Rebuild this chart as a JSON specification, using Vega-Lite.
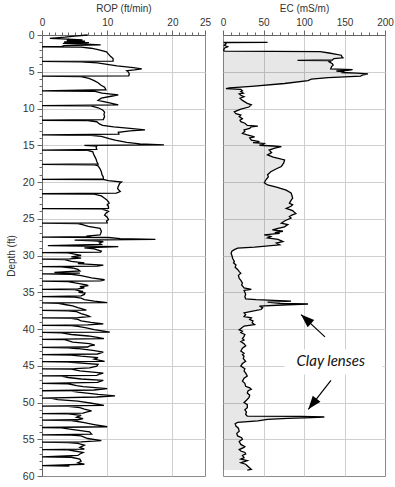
{
"$schema": "https://vega.github.io/schema/vega-lite/v6.json",
"padding": {"left": 5, "top": 2, "right": 5, "bottom": 5},
"background": "white",
"spacing": 18,
"bounds": "flush",
"config": {
  "view": {"stroke": "#8c8c8c", "strokeWidth": 1},
  "axis": {"labelFont": "Liberation Sans", "titleFont": "Liberation Sans", "labelFontSize": 10, "titleFontSize": 10, "titleFontWeight": "normal", "labelColor": "#333", "titleColor": "#333", "domainColor": "#666", "tickColor": "#666", "gridColor": "#cfcfcf", "labelFlush": false, "labelOverlap": false}
},
"datasets": {
"rop": [
{"d":0.0,"rop":7.0},{"d":0.15,"rop":5.0},{"d":0.3,"rop":3.5},{"d":0.45,"rop":1.2},{"d":0.55,"rop":4.0},{"d":0.65,"rop":6.2},{"d":0.75,"rop":3.8},{"d":0.85,"rop":6.6},{"d":0.95,"rop":3.4},{"d":1.05,"rop":7.2},{"d":1.15,"rop":3.2},{"d":1.25,"rop":6.8},{"d":1.35,"rop":9.0},{"d":1.45,"rop":3.4},{"d":1.55,"rop":3.0},{"d":1.6,"rop":0},
{"d":1.65,"rop":6.0},{"d":1.8,"rop":7.5},{"d":2.0,"rop":8.6},{"d":2.3,"rop":9.9},{"d":2.6,"rop":10.2},{"d":2.9,"rop":10.5},{"d":3.2,"rop":10.9},{"d":3.55,"rop":10.9},{"d":3.6,"rop":0},
{"d":3.65,"rop":6.0},{"d":3.8,"rop":8.5},{"d":4.0,"rop":10.0},{"d":4.2,"rop":11.5},{"d":4.45,"rop":14.0},{"d":4.6,"rop":15.3},{"d":4.75,"rop":14.2},{"d":4.85,"rop":13.0},{"d":5.0,"rop":13.2},{"d":5.3,"rop":13.4},{"d":5.55,"rop":13.3},{"d":5.6,"rop":0},
{"d":5.65,"rop":6.0},{"d":5.9,"rop":7.2},{"d":6.2,"rop":8.0},{"d":6.5,"rop":8.6},{"d":6.8,"rop":9.0},{"d":7.1,"rop":9.6},{"d":7.45,"rop":9.8},{"d":7.6,"rop":0},
{"d":7.65,"rop":8.0},{"d":7.9,"rop":9.2},{"d":8.15,"rop":11.7},{"d":8.3,"rop":10.8},{"d":8.6,"rop":9.1},{"d":8.9,"rop":8.6},{"d":9.2,"rop":10.2},{"d":9.5,"rop":11.7},{"d":9.6,"rop":0},
{"d":9.65,"rop":7.5},{"d":9.9,"rop":8.6},{"d":10.2,"rop":9.3},{"d":10.5,"rop":9.6},{"d":10.8,"rop":9.5},{"d":11.1,"rop":9.6},{"d":11.5,"rop":9.4},{"d":11.6,"rop":0},
{"d":11.65,"rop":7.0},{"d":11.8,"rop":8.4},{"d":12.1,"rop":8.8},{"d":12.3,"rop":9.3},{"d":12.5,"rop":11.0},{"d":12.7,"rop":13.5},{"d":12.9,"rop":15.8},{"d":13.05,"rop":13.5},{"d":13.25,"rop":11.7},{"d":13.5,"rop":11.8},{"d":13.6,"rop":0},
{"d":13.65,"rop":7.5},{"d":13.8,"rop":9.1},{"d":14.1,"rop":10.3},{"d":14.3,"rop":11.2},{"d":14.6,"rop":13.0},{"d":14.8,"rop":15.0},{"d":14.95,"rop":18.7},{"d":15.02,"rop":6.5},{"d":15.1,"rop":8.4},{"d":15.3,"rop":8.3},{"d":15.55,"rop":8.4},{"d":15.65,"rop":0},
{"d":15.7,"rop":7.0},{"d":15.9,"rop":7.8},{"d":16.2,"rop":7.9},{"d":16.55,"rop":8.1},{"d":16.9,"rop":8.3},{"d":17.2,"rop":8.4},{"d":17.55,"rop":8.6},{"d":17.6,"rop":0},
{"d":17.65,"rop":8.0},{"d":17.8,"rop":8.6},{"d":18.2,"rop":8.9},{"d":18.6,"rop":9.1},{"d":19.0,"rop":9.2},{"d":19.3,"rop":9.4},{"d":19.58,"rop":9.4},{"d":19.63,"rop":0},
{"d":19.68,"rop":9.5},{"d":19.8,"rop":10.2},{"d":20.0,"rop":12.2},{"d":20.2,"rop":11.9},{"d":20.6,"rop":11.7},{"d":20.9,"rop":11.6},{"d":21.3,"rop":12.0},{"d":21.5,"rop":11.4},{"d":21.6,"rop":0},
{"d":21.65,"rop":8.0},{"d":21.9,"rop":9.1},{"d":22.2,"rop":9.6},{"d":22.4,"rop":9.9},{"d":22.7,"rop":10.2},{"d":22.9,"rop":10.3},{"d":23.1,"rop":10.0},{"d":23.3,"rop":10.2},{"d":23.58,"rop":10.2},{"d":23.62,"rop":0},
{"d":23.67,"rop":9.0},{"d":23.8,"rop":9.6},{"d":24.0,"rop":10.2},{"d":24.25,"rop":9.8},{"d":24.5,"rop":9.6},{"d":24.8,"rop":10.0},{"d":25.1,"rop":10.2},{"d":25.3,"rop":9.9},{"d":25.55,"rop":10.0},{"d":25.6,"rop":0},
{"d":25.65,"rop":5.5},{"d":25.8,"rop":6.2},{"d":26.05,"rop":7.1},{"d":26.3,"rop":8.9},{"d":26.5,"rop":9.0},{"d":26.7,"rop":9.1},{"d":27.0,"rop":9.0},{"d":27.2,"rop":8.9},{"d":27.35,"rop":6.8},{"d":27.45,"rop":7.5},{"d":27.5,"rop":0},
{"d":27.55,"rop":10.2},{"d":27.7,"rop":12.0},{"d":27.8,"rop":17.4},{"d":27.9,"rop":5.0},{"d":28.0,"rop":8.0},{"d":28.1,"rop":9.4},{"d":28.3,"rop":8.8},{"d":28.5,"rop":9.1},{"d":28.65,"rop":0.9},{"d":28.8,"rop":11.7},{"d":28.95,"rop":6.5},{"d":29.1,"rop":8.0},{"d":29.4,"rop":9.1},{"d":29.55,"rop":9.0},{"d":29.6,"rop":0},
{"d":29.65,"rop":4.0},{"d":29.8,"rop":5.0},{"d":30.0,"rop":6.0},{"d":30.2,"rop":4.5},{"d":30.35,"rop":6.0},{"d":30.45,"rop":4.2},{"d":30.5,"rop":0},
{"d":30.55,"rop":3.5},{"d":30.8,"rop":4.5},{"d":31.0,"rop":6.5},{"d":31.1,"rop":5.5},{"d":31.3,"rop":9.4},{"d":31.45,"rop":8.5},{"d":31.5,"rop":0},
{"d":31.55,"rop":3.0},{"d":31.7,"rop":4.7},{"d":31.9,"rop":5.5},{"d":32.1,"rop":5.8},{"d":32.3,"rop":1.9},{"d":32.4,"rop":5.8},{"d":32.5,"rop":0},
{"d":32.55,"rop":4.5},{"d":32.75,"rop":6.0},{"d":33.05,"rop":7.6},{"d":33.3,"rop":9.6},{"d":33.45,"rop":9.0},{"d":33.5,"rop":0},
{"d":33.55,"rop":4.0},{"d":33.8,"rop":5.5},{"d":34.0,"rop":6.8},{"d":34.1,"rop":7.1},{"d":34.25,"rop":5.8},{"d":34.4,"rop":6.5},{"d":34.55,"rop":5.5},{"d":34.6,"rop":0},
{"d":34.65,"rop":5.0},{"d":34.9,"rop":6.3},{"d":35.0,"rop":5.6},{"d":35.1,"rop":6.6},{"d":35.3,"rop":6.5},{"d":35.5,"rop":6.0},{"d":35.6,"rop":0},
{"d":35.65,"rop":5.0},{"d":35.8,"rop":6.0},{"d":36.0,"rop":6.5},{"d":36.2,"rop":8.0},{"d":36.4,"rop":10.0},{"d":36.45,"rop":0},
{"d":36.5,"rop":2.5},{"d":36.7,"rop":3.7},{"d":36.85,"rop":4.7},{"d":37.1,"rop":5.5},{"d":37.3,"rop":6.3},{"d":37.42,"rop":6.8},{"d":37.47,"rop":0},
{"d":37.52,"rop":4.0},{"d":37.65,"rop":5.3},{"d":37.9,"rop":6.0},{"d":38.1,"rop":6.8},{"d":38.3,"rop":7.3},{"d":38.45,"rop":5.5},{"d":38.5,"rop":0},
{"d":38.55,"rop":4.5},{"d":38.7,"rop":5.5},{"d":38.9,"rop":6.0},{"d":39.1,"rop":7.5},{"d":39.3,"rop":9.4},{"d":39.45,"rop":7.0},{"d":39.5,"rop":0},
{"d":39.55,"rop":4.5},{"d":39.65,"rop":5.5},{"d":39.85,"rop":6.8},{"d":40.1,"rop":8.0},{"d":40.3,"rop":9.5},{"d":40.42,"rop":10.4},{"d":40.47,"rop":0},
{"d":40.52,"rop":3.0},{"d":40.75,"rop":4.5},{"d":40.95,"rop":7.1},{"d":41.15,"rop":8.5},{"d":41.32,"rop":9.5},{"d":41.4,"rop":0},
{"d":41.45,"rop":3.5},{"d":41.8,"rop":4.7},{"d":42.0,"rop":7.3},{"d":42.2,"rop":8.1},{"d":42.3,"rop":7.3},{"d":42.45,"rop":7.0},{"d":42.5,"rop":0},
{"d":42.55,"rop":4.0},{"d":42.65,"rop":5.3},{"d":42.9,"rop":7.8},{"d":43.15,"rop":9.4},{"d":43.4,"rop":8.5},{"d":43.5,"rop":0},
{"d":43.55,"rop":4.5},{"d":43.7,"rop":6.0},{"d":43.9,"rop":8.6},{"d":44.1,"rop":8.0},{"d":44.4,"rop":9.6},{"d":44.45,"rop":0},
{"d":44.5,"rop":4.0},{"d":44.8,"rop":8.6},{"d":45.05,"rop":8.4},{"d":45.3,"rop":7.3},{"d":45.38,"rop":5.0},{"d":45.42,"rop":0},
{"d":45.47,"rop":4.5},{"d":45.7,"rop":5.8},{"d":46.0,"rop":9.4},{"d":46.15,"rop":8.8},{"d":46.3,"rop":8.4},{"d":46.38,"rop":0},
{"d":46.42,"rop":3.0},{"d":46.6,"rop":4.0},{"d":46.8,"rop":6.0},{"d":47.0,"rop":9.4},{"d":47.25,"rop":8.5},{"d":47.4,"rop":0},
{"d":47.45,"rop":4.0},{"d":47.7,"rop":5.3},{"d":47.85,"rop":6.3},{"d":48.1,"rop":10.0},{"d":48.3,"rop":8.0},{"d":48.4,"rop":0},
{"d":48.45,"rop":4.5},{"d":48.6,"rop":5.5},{"d":48.9,"rop":8.6},{"d":49.1,"rop":11.2},{"d":49.25,"rop":8.4},{"d":49.4,"rop":0},
{"d":49.45,"rop":1.5},{"d":49.6,"rop":2.4},{"d":49.8,"rop":5.5},{"d":50.1,"rop":7.6},{"d":50.4,"rop":9.5},{"d":50.48,"rop":0},
{"d":50.52,"rop":4.0},{"d":50.7,"rop":5.8},{"d":50.9,"rop":6.5},{"d":51.15,"rop":7.6},{"d":51.3,"rop":6.8},{"d":51.45,"rop":6.3},{"d":51.5,"rop":0},
{"d":51.55,"rop":4.0},{"d":51.75,"rop":6.0},{"d":52.0,"rop":5.3},{"d":52.2,"rop":6.3},{"d":52.35,"rop":5.5},{"d":52.4,"rop":0},
{"d":52.45,"rop":4.5},{"d":52.75,"rop":6.5},{"d":53.0,"rop":8.0},{"d":53.3,"rop":10.0},{"d":53.4,"rop":0},
{"d":53.45,"rop":3.0},{"d":53.65,"rop":4.5},{"d":54.0,"rop":7.3},{"d":54.3,"rop":7.6},{"d":54.4,"rop":0},
{"d":54.45,"rop":4.5},{"d":54.55,"rop":6.0},{"d":54.9,"rop":7.0},{"d":55.2,"rop":9.1},{"d":55.35,"rop":6.0},{"d":55.4,"rop":0},
{"d":55.45,"rop":4.0},{"d":55.55,"rop":5.5},{"d":55.8,"rop":6.5},{"d":56.1,"rop":5.8},{"d":56.35,"rop":6.5},{"d":56.4,"rop":0},
{"d":56.45,"rop":4.0},{"d":56.6,"rop":5.0},{"d":56.8,"rop":6.3},{"d":57.0,"rop":5.8},{"d":57.2,"rop":5.5},{"d":57.4,"rop":0},
{"d":57.45,"rop":4.5},{"d":57.7,"rop":5.8},{"d":58.0,"rop":6.0},{"d":58.2,"rop":5.5},{"d":58.4,"rop":6.5},{"d":58.6,"rop":0},
{"d":58.65,"rop":4.2}
],
"ec": [
{"d":1.0,"ec":55},{"d":1.02,"ec":2},{"d":1.2,"ec":3.7},{"d":1.4,"ec":1.6},{"d":1.6,"ec":5.8},{"d":1.8,"ec":1.6},{"d":2.1,"ec":0.8},{"d":2.2,"ec":2},{"d":2.25,"ec":120},{"d":2.45,"ec":131},{"d":2.75,"ec":146},{"d":3.0,"ec":147},{"d":3.1,"ec":148},{"d":3.2,"ec":137},{"d":3.4,"ec":135},{"d":3.45,"ec":92},{"d":3.5,"ec":134},{"d":3.65,"ec":131},{"d":3.9,"ec":135},{"d":4.1,"ec":136},{"d":4.3,"ec":134},{"d":4.6,"ec":133},{"d":4.7,"ec":160},{"d":4.8,"ec":154},{"d":4.9,"ec":140},{"d":5.0,"ec":150},{"d":5.1,"ec":146},{"d":5.2,"ec":165},{"d":5.3,"ec":179},{"d":5.45,"ec":172},{"d":5.6,"ec":170},{"d":5.8,"ec":130},{"d":6.0,"ec":109},{"d":6.2,"ec":105},{"d":6.6,"ec":76},{"d":7.0,"ec":35},{"d":7.2,"ec":8},{"d":7.3,"ec":3.7},{"d":7.4,"ec":22},{"d":7.6,"ec":24},{"d":7.7,"ec":22},{"d":7.9,"ec":25},{"d":8.0,"ec":20},{"d":8.2,"ec":22},{"d":8.4,"ec":26},{"d":8.6,"ec":21},{"d":8.9,"ec":24},{"d":9.1,"ec":27},{"d":9.3,"ec":30},{"d":9.5,"ec":35},{"d":9.8,"ec":32},{"d":10.1,"ec":22},{"d":10.45,"ec":14},{"d":10.7,"ec":16},{"d":10.9,"ec":22},{"d":11.1,"ec":20},{"d":11.4,"ec":24},{"d":11.6,"ec":21},{"d":11.8,"ec":22},{"d":12.0,"ec":27},{"d":12.3,"ec":30},{"d":12.4,"ec":43},{"d":12.5,"ec":35},{"d":12.7,"ec":33},{"d":12.9,"ec":26},{"d":13.1,"ec":27},{"d":13.4,"ec":24},{"d":13.6,"ec":30},{"d":13.85,"ec":39},{"d":14.0,"ec":33},{"d":14.3,"ec":35},{"d":14.5,"ec":45},{"d":14.65,"ec":37},{"d":14.75,"ec":51},{"d":14.9,"ec":49},{"d":15.0,"ec":45},{"d":15.1,"ec":62},{"d":15.2,"ec":72},{"d":15.4,"ec":64},{"d":15.65,"ec":57},{"d":16.0,"ec":60},{"d":16.3,"ec":55},{"d":16.6,"ec":62},{"d":16.9,"ec":72},{"d":17.0,"ec":76},{"d":17.4,"ec":75},{"d":17.9,"ec":72},{"d":18.2,"ec":66},{"d":18.6,"ec":59},{"d":19.0,"ec":55},{"d":19.3,"ec":56},{"d":19.7,"ec":53},{"d":20.1,"ec":51},{"d":20.4,"ec":55},{"d":20.7,"ec":66},{"d":21.1,"ec":78},{"d":21.5,"ec":84},{"d":21.8,"ec":85},{"d":22.2,"ec":86},{"d":22.5,"ec":84},{"d":22.9,"ec":82},{"d":23.1,"ec":86},{"d":23.3,"ec":84},{"d":23.6,"ec":78},{"d":23.9,"ec":86},{"d":24.1,"ec":88},{"d":24.3,"ec":90},{"d":24.5,"ec":85},{"d":24.7,"ec":82},{"d":24.9,"ec":84},{"d":25.1,"ec":80},{"d":25.3,"ec":76},{"d":25.6,"ec":72},{"d":25.8,"ec":80},{"d":26.1,"ec":76},{"d":26.3,"ec":68},{"d":26.5,"ec":61},{"d":26.7,"ec":74},{"d":26.9,"ec":64},{"d":27.0,"ec":70},{"d":27.2,"ec":51},{"d":27.4,"ec":59},{"d":27.6,"ec":55},{"d":27.8,"ec":68},{"d":28.1,"ec":74},{"d":28.3,"ec":66},{"d":28.55,"ec":70},{"d":28.85,"ec":39},{"d":29.0,"ec":18},{"d":29.2,"ec":14},{"d":29.4,"ec":11},{"d":29.7,"ec":10},{"d":30.0,"ec":11},{"d":30.4,"ec":12},{"d":30.8,"ec":14},{"d":31.0,"ec":13},{"d":31.3,"ec":16},{"d":31.6,"ec":15},{"d":31.9,"ec":18},{"d":32.2,"ec":20},{"d":32.4,"ec":22},{"d":32.7,"ec":19},{"d":33.1,"ec":20},{"d":33.4,"ec":22},{"d":33.75,"ec":24},{"d":34.0,"ec":23},{"d":34.4,"ec":26},{"d":34.6,"ec":35},{"d":34.75,"ec":26},{"d":35.0,"ec":27},{"d":35.3,"ec":28},{"d":35.6,"ec":27},{"d":35.9,"ec":28},{"d":36.0,"ec":41},{"d":36.2,"ec":84},{"d":36.35,"ec":55},{"d":36.5,"ec":70},{"d":36.6,"ec":105},{"d":36.7,"ec":80},{"d":36.9,"ec":45},{"d":37.1,"ec":49},{"d":37.35,"ec":47},{"d":37.6,"ec":35},{"d":37.8,"ec":26},{"d":38.05,"ec":28},{"d":38.3,"ec":26},{"d":38.5,"ec":35},{"d":38.7,"ec":33},{"d":38.9,"ec":37},{"d":39.15,"ec":36},{"d":39.4,"ec":39},{"d":39.6,"ec":26},{"d":39.85,"ec":23},{"d":40.1,"ec":20},{"d":40.3,"ec":24},{"d":40.5,"ec":22},{"d":40.75,"ec":27},{"d":41.0,"ec":26},{"d":41.3,"ec":24},{"d":41.5,"ec":26},{"d":41.7,"ec":22},{"d":42.0,"ec":26},{"d":42.3,"ec":28},{"d":42.6,"ec":24},{"d":43.0,"ec":22},{"d":43.3,"ec":26},{"d":43.5,"ec":24},{"d":43.7,"ec":26},{"d":44.0,"ec":25},{"d":44.4,"ec":28},{"d":44.7,"ec":24},{"d":45.05,"ec":22},{"d":45.4,"ec":27},{"d":45.7,"ec":26},{"d":46.0,"ec":28},{"d":46.4,"ec":30},{"d":46.7,"ec":26},{"d":47.1,"ec":24},{"d":47.4,"ec":27},{"d":47.8,"ec":28},{"d":48.0,"ec":33},{"d":48.2,"ec":35},{"d":48.4,"ec":31},{"d":48.7,"ec":30},{"d":49.0,"ec":33},{"d":49.35,"ec":32},{"d":49.7,"ec":29},{"d":50.0,"ec":26},{"d":50.3,"ec":30},{"d":50.7,"ec":30},{"d":51.0,"ec":27},{"d":51.3,"ec":29},{"d":51.6,"ec":28},{"d":51.85,"ec":30},{"d":51.9,"ec":96},{"d":51.95,"ec":125},{"d":52.0,"ec":124},{"d":52.05,"ec":110},{"d":52.15,"ec":80},{"d":52.3,"ec":55},{"d":52.5,"ec":43},{"d":52.7,"ec":18},{"d":52.9,"ec":15},{"d":53.2,"ec":16},{"d":53.5,"ec":19},{"d":53.9,"ec":20},{"d":54.2,"ec":17},{"d":54.55,"ec":18},{"d":54.8,"ec":23},{"d":55.0,"ec":24},{"d":55.3,"ec":20},{"d":55.7,"ec":22},{"d":56.0,"ec":27},{"d":56.1,"ec":26},{"d":56.4,"ec":20},{"d":56.6,"ec":22},{"d":56.8,"ec":27},{"d":57.0,"ec":28},{"d":57.2,"ec":24},{"d":57.5,"ec":26},{"d":57.7,"ec":22},{"d":57.9,"ec":30},{"d":58.2,"ec":22},{"d":58.4,"ec":28},{"d":58.6,"ec":30},{"d":58.9,"ec":33},{"d":59.1,"ec":35},{"d":59.2,"ec":30}
],
"note": [{"label": "Clay lenses", "ec": 133, "d": 44.4, "ec_lo": 76, "ec_hi": 197, "d_lo": 42.8, "d_hi": 46.2}],
"arrows": [
{"id": 1, "ec": 125.9, "d": 41.07, "ec2": 96.3, "d2": 38.04},
{"id": 2, "ec": 133.3, "d": 47.0, "ec2": 105.3, "d2": 50.93}
]
},
"hconcat": [
{
  "width": 163, "height": 441,
  "data": {"name": "rop"},
  "mark": {"type": "line", "color": "black", "strokeWidth": 1.3},
  "encoding": {
    "x": {"field": "rop", "type": "quantitative", "scale": {"domain": [0, 25], "nice": false},
      "axis": {"orient": "top", "title": "ROP (ft/min)", "values": [0,1,2,3,4,5,6,7,8,9,10,11,12,13,14,15,16,17,18,19,20,21,22,23,24,25],
        "labelExpr": "datum.value % 10 === 0 || datum.value === 25 ? datum.label : ''",
        "tickSize": {"condition": {"test": "datum.value % 10 === 0 || datum.value === 25", "value": 5}, "value": 3},
        "gridOpacity": {"condition": {"test": "datum.value === 10 || datum.value === 20", "value": 1}, "value": 0},
        "grid": true, "labelPadding": 3, "titlePadding": 4}},
    "y": {"field": "d", "type": "quantitative", "scale": {"domain": [0, 60], "reverse": true, "nice": false},
      "axis": {"title": "Depth (ft)", "values": [0,1,2,3,4,5,6,7,8,9,10,11,12,13,14,15,16,17,18,19,20,21,22,23,24,25,26,27,28,29,30,31,32,33,34,35,36,37,38,39,40,41,42,43,44,45,46,47,48,49,50,51,52,53,54,55,56,57,58,59,60],
        "labelExpr": "datum.value % 5 === 0 ? datum.label : ''",
        "tickSize": {"condition": {"test": "datum.value % 5 === 0", "value": 5}, "value": 3},
        "gridOpacity": {"condition": {"test": "datum.value % 5 === 0 && datum.value > 0 && datum.value < 60", "value": 1}, "value": 0},
        "grid": true, "labelPadding": 3, "titlePadding": 6, "labelFontSize": 10.5}},
    "order": {"field": "d", "type": "quantitative"}
  }
},
{
  "width": 162, "height": 441,
  "resolve": {"axis": {"x": "independent", "y": "independent"}},
  "layer": [
    {
      "data": {"name": "ec"},
      "mark": {"type": "line", "color": "black", "strokeWidth": 1.3},
      "encoding": {
        "x": {"field": "ec", "type": "quantitative", "scale": {"domain": [0, 200], "nice": false},
          "axis": {"orient": "top", "title": "EC (mS/m)", "values": [0,10,20,30,40,50,60,70,80,90,100,110,120,130,140,150,160,170,180,190,200],
            "labelExpr": "datum.value % 50 === 0 ? datum.label : ''",
            "tickSize": {"condition": {"test": "datum.value % 50 === 0", "value": 5}, "value": 3},
            "gridOpacity": {"condition": {"test": "datum.value % 50 === 0 && datum.value > 0 && datum.value < 200", "value": 1}, "value": 0},
            "grid": true, "labelPadding": 3, "titlePadding": 4}},
        "y": {"field": "d", "type": "quantitative", "scale": {"domain": [0, 60], "reverse": true, "nice": false},
          "axis": {"title": null, "values": [5,10,15,20,25,30,35,40,45,50,55], "labels": false, "ticks": false, "domain": false, "grid": true}},
        "order": {"field": "d", "type": "quantitative"}
      }
    },
    {
      "data": {"name": "ec"},
      "mark": {"type": "area", "orient": "horizontal", "fill": "black", "fillOpacity": 0.095},
      "encoding": {
        "x": {"field": "ec", "type": "quantitative", "stack": null, "axis": null},
        "x2": {"datum": 0},
        "y": {"field": "d", "type": "quantitative", "axis": null}
      }
    },
    {
      "data": {"name": "note"},
      "mark": {"type": "rect", "fill": "white"},
      "encoding": {
        "x": {"field": "ec_lo", "type": "quantitative", "axis": null},
        "x2": {"field": "ec_hi"},
        "y": {"field": "d_lo", "type": "quantitative", "axis": null},
        "y2": {"field": "d_hi"}
      }
    },
    {
      "data": {"name": "note"},
      "mark": {"type": "text", "font": "Lato", "fontStyle": "italic", "fontSize": 15, "color": "#111"},
      "encoding": {
        "x": {"field": "ec", "type": "quantitative", "axis": null},
        "y": {"field": "d", "type": "quantitative", "axis": null},
        "text": {"field": "label"}
      }
    },
    {
      "data": {"name": "arrows"},
      "mark": {"type": "rule", "color": "black", "strokeWidth": 1.2},
      "encoding": {
        "x": {"field": "ec", "type": "quantitative", "axis": null},
        "y": {"field": "d", "type": "quantitative", "axis": null},
        "x2": {"field": "ec2"},
        "y2": {"field": "d2"}
      }
    },
    {
      "data": {"name": "arrows"},
      "transform": [{"filter": "datum.id === 1"}],
      "mark": {"type": "point", "shape": "M0,0L0.8,2.2L-0.8,2.2Z", "filled": true, "color": "black", "opacity": 1, "size": 150, "angle": 312.5},
      "encoding": {
        "x": {"field": "ec2", "type": "quantitative", "axis": null},
        "y": {"field": "d2", "type": "quantitative", "axis": null}
      }
    },
    {
      "data": {"name": "arrows"},
      "transform": [{"filter": "datum.id === 2"}],
      "mark": {"type": "point", "shape": "M0,0L0.8,2.2L-0.8,2.2Z", "filled": true, "color": "black", "opacity": 1, "size": 150, "angle": 218},
      "encoding": {
        "x": {"field": "ec2", "type": "quantitative", "axis": null},
        "y": {"field": "d2", "type": "quantitative", "axis": null}
      }
    }
  ]
}
]
}
